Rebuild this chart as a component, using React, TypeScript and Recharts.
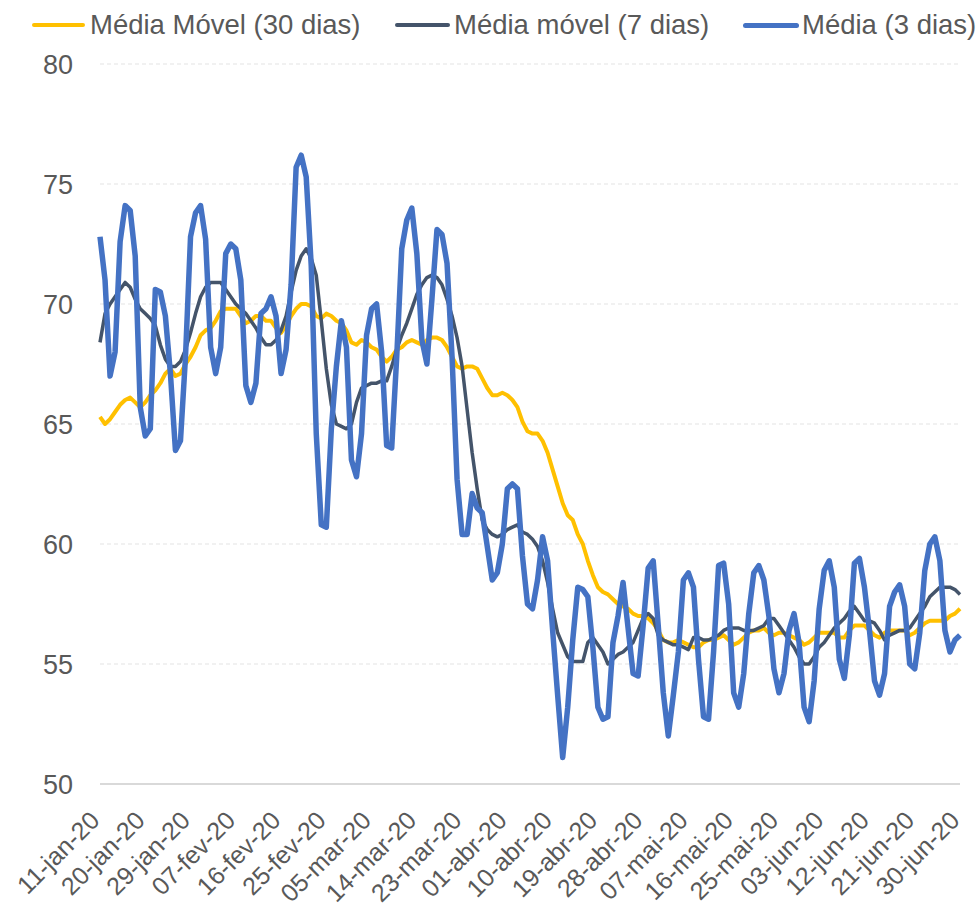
import { LineChart, Line, XAxis, YAxis, CartesianGrid } from "recharts";

const monthNames = ["jan", "fev", "mar", "abr", "mai", "jun", "jul", "ago", "set", "out", "nov", "dez"];

// one category per day, 11-jan-20 .. 30-jun-20
const days: string[] = [];
for (let d = new Date(Date.UTC(2020, 0, 11)); d <= new Date(Date.UTC(2020, 5, 30)); d.setUTCDate(d.getUTCDate() + 1)) {
  const dd = String(d.getUTCDate()).padStart(2, "0");
  days.push(`${dd}-${monthNames[d.getUTCMonth()]}-20`);
}

const media30 = [
  65.3, 65.0, 65.2, 65.5, 65.8, 66.0, 66.1, 65.9, 65.7, 65.9,
  66.2, 66.4, 66.7, 67.1, 67.3, 67.0, 67.1, 67.5, 67.8, 68.2,
  68.7, 68.9, 69.0, 69.3, 69.7, 69.8, 69.8, 69.8, 69.5, 69.2,
  69.3, 69.5, 69.5, 69.3, 69.3, 69.0, 68.8, 69.1, 69.5, 69.8,
  70.0, 70.0, 69.9, 69.5, 69.4, 69.6, 69.5, 69.3, 69.2, 68.9,
  68.4, 68.3, 68.5, 68.4, 68.2, 68.1, 67.8, 67.6, 67.8, 68.1,
  68.2, 68.4, 68.5, 68.4, 68.3, 68.5, 68.6, 68.6, 68.5, 68.2,
  67.8, 67.4, 67.3, 67.4, 67.4, 67.3, 66.9, 66.5, 66.2, 66.2,
  66.3, 66.2, 66.0, 65.7, 65.1, 64.7, 64.6, 64.6, 64.3, 63.8,
  63.1, 62.4, 61.7, 61.2, 61.0, 60.4, 60.0, 59.3, 58.7, 58.2,
  58.0, 57.9, 57.7, 57.5, 57.4, 57.3, 57.1, 57.0, 57.0, 56.9,
  56.7, 56.4, 56.0, 55.9, 55.9, 56.0, 55.9, 55.8, 55.7, 55.7,
  55.9, 56.0, 56.0, 56.1, 56.2, 56.0, 55.8, 55.9, 56.1, 56.3,
  56.4, 56.4, 56.5, 56.3, 56.2, 56.3, 56.3, 56.2, 56.1, 56.0,
  55.8, 55.9, 56.1, 56.3, 56.3, 56.3, 56.3, 56.1, 56.1, 56.4,
  56.6, 56.6, 56.6, 56.4, 56.2, 56.1, 56.3, 56.4, 56.4, 56.4,
  56.4, 56.2, 56.3, 56.5, 56.7, 56.8, 56.8, 56.8, 56.8, 57.0,
  57.1, 57.3,
];

const media7 = [
  68.4, 69.6, 70.0, 70.3, 70.6, 70.9, 70.7, 70.2, 69.8, 69.6,
  69.4, 69.1, 68.3, 67.7, 67.4, 67.4, 67.6, 68.1, 68.8, 69.6,
  70.3, 70.7, 70.9, 70.9, 70.9, 70.6, 70.3, 70.0, 69.8, 69.6,
  69.3, 69.0, 68.6, 68.3, 68.3, 68.5, 68.9, 69.5, 70.5, 71.4,
  72.0, 72.3, 71.9, 71.2, 69.3, 67.3, 65.8, 65.0, 64.9, 64.8,
  65.0, 65.9, 66.5, 66.6, 66.7, 66.7, 66.8, 66.8, 67.4, 68.1,
  68.7, 69.2, 69.8, 70.4, 70.8, 71.1, 71.2, 71.1, 70.8, 70.2,
  69.5, 68.6, 67.4, 65.6, 63.8, 62.3, 61.0, 60.6, 60.4, 60.3,
  60.4, 60.6, 60.7, 60.8, 60.5, 60.4, 60.2, 59.9, 59.3, 58.4,
  57.3, 56.3, 55.8, 55.3, 55.1, 55.1, 55.1, 55.9, 56.1, 55.8,
  55.5, 55.0, 55.2, 55.4, 55.5, 55.7, 55.9, 56.4, 56.9, 57.1,
  56.9, 56.2, 56.0, 55.9, 55.8, 55.8, 55.7, 55.6, 56.1, 56.1,
  56.0, 56.0, 56.1, 56.2, 56.4, 56.5, 56.5, 56.5, 56.4, 56.4,
  56.4, 56.5, 56.6, 56.9, 56.9, 56.6, 56.3, 56.0, 55.7, 55.3,
  55.0, 55.0, 55.3, 55.7, 55.9, 56.2, 56.5, 56.7, 56.9, 57.2,
  57.4, 57.1, 56.8, 56.8, 56.7, 56.4, 56.0, 56.2, 56.3, 56.4,
  56.4, 56.5, 56.8, 57.1, 57.4, 57.8, 58.0, 58.2, 58.2, 58.2,
  58.1, 57.9,
];

const media3 = [
  72.8, 71.0, 67.0, 68.0, 72.6, 74.1, 73.9, 72.0, 65.7, 64.5,
  64.8, 70.6, 70.5, 69.5, 67.1, 63.9, 64.3, 67.8, 72.8, 73.8,
  74.1, 72.7, 68.2, 67.1, 68.2, 72.1, 72.5, 72.3, 71.0, 66.6,
  65.9, 66.7, 69.6, 69.8, 70.3, 69.5, 67.1, 68.1, 70.8, 75.7,
  76.2, 75.3, 71.6, 64.6, 60.8, 60.7, 64.8, 67.4, 69.3, 68.2,
  63.5, 62.8, 64.6, 68.7, 69.8, 70.0, 68.0, 64.1, 64.0, 67.8,
  72.3, 73.5, 74.0, 72.1, 68.5, 67.5, 70.2, 73.1, 72.9, 71.7,
  67.8, 62.7, 60.4, 60.4, 62.1, 61.5, 61.3, 59.9, 58.5, 58.8,
  60.0, 62.3, 62.5, 62.3, 59.5, 57.5, 57.3, 58.5, 60.3, 59.3,
  56.4, 53.7, 51.1, 53.2, 56.0, 58.2, 58.1, 57.8, 55.7, 53.2,
  52.7, 52.8, 55.9, 57.0, 58.4, 56.5, 54.6, 54.5, 56.6, 59.0,
  59.3, 56.6, 53.8, 52.0, 53.7, 55.5, 58.5, 58.8, 58.2, 55.2,
  52.8, 52.7, 55.5, 59.1, 59.2, 57.5, 53.8, 53.2, 54.6, 57.1,
  58.8, 59.1, 58.5, 57.0, 54.8, 53.8, 54.6, 56.4, 57.1, 55.9,
  53.2, 52.6, 54.3, 57.3, 58.9, 59.3, 58.2, 55.2, 54.4, 56.2,
  59.2, 59.4, 58.2, 56.4, 54.3, 53.7, 54.6, 57.4, 58.0, 58.3,
  57.4, 55.0, 54.8, 56.3, 58.9, 60.0, 60.3, 59.3, 56.4, 55.5,
  56.0, 56.2,
];

const yTicks = [50, 55, 60, 65, 70, 75, 80];

const data = days.map((day, i) => ({
  day,
  m30: media30[i],
  m7: media7[i],
  m3: media3[i],
}));

const FONT = '"Liberation Sans", Arial, sans-serif';
const TEXT = "#595959";

const legendItems = [
  { label: "Média Móvel (30 dias)", color: "#FFC000", width: 4, lineX: 32, lineW: 53, textX: 90 },
  { label: "Média móvel (7 dias)", color: "#44546A", width: 4, lineX: 395, lineW: 55, textX: 454 },
  { label: "Média (3 dias)", color: "#4472C4", width: 5, lineX: 743, lineW: 56, textX: 802 },
];

const DayTick = (props: any) => {
  const { x, y, payload } = props;
  return (
    <g transform={`translate(${x + 1},${y + 32})`}>
      <text textAnchor="end" transform="rotate(-45)" fill={TEXT} fontSize={25} fontFamily={FONT}>
        {payload.value}
      </text>
    </g>
  );
};

export default function App() {
  return (
    <div style={{ position: "absolute", left: 0, top: 0, width: 978, height: 913, background: "#fff", fontFamily: FONT }}>
      {legendItems.map((it) => (
        <div key={it.label}>
          <div
            style={{
              position: "absolute",
              left: it.lineX,
              top: 25 - it.width / 2,
              width: it.lineW,
              height: it.width,
              borderRadius: it.width / 2,
              background: it.color,
            }}
          />
          <div
            style={{
              position: "absolute",
              left: it.textX,
              top: 8,
              fontSize: 27.5,
              lineHeight: "34px",
              color: TEXT,
              whiteSpace: "nowrap",
            }}
          >
            {it.label}
          </div>
        </div>
      ))}
      <LineChart width={978} height={913} data={data} margin={{ top: 64, right: 18, left: 0, bottom: 0 }}>
        <CartesianGrid vertical={false} stroke="#E3E3E3" strokeDasharray="4 3" />
        <XAxis
          dataKey="day"
          interval={8}
          height={129}
          tickLine={false}
          tickMargin={0}
          axisLine={{ stroke: "#D9D9D9", strokeWidth: 2 }}
          tick={<DayTick />}
        />
        <YAxis
          domain={[50, 80]}
          ticks={yTicks}
          width={100}
          tickLine={false}
          axisLine={false}
          tickMargin={21}
          tick={{ fill: TEXT, fontSize: 27, fontFamily: FONT }}
        />
        <Line dataKey="m30" name="Média Móvel (30 dias)" stroke="#FFC000" strokeWidth={4} dot={false} isAnimationActive={false} strokeLinejoin="round" />
        <Line dataKey="m7" name="Média móvel (7 dias)" stroke="#44546A" strokeWidth={3.5} dot={false} isAnimationActive={false} strokeLinejoin="round" />
        <Line dataKey="m3" name="Média (3 dias)" stroke="#4472C4" strokeWidth={5.5} dot={false} isAnimationActive={false} strokeLinejoin="round" />
      </LineChart>
    </div>
  );
}
